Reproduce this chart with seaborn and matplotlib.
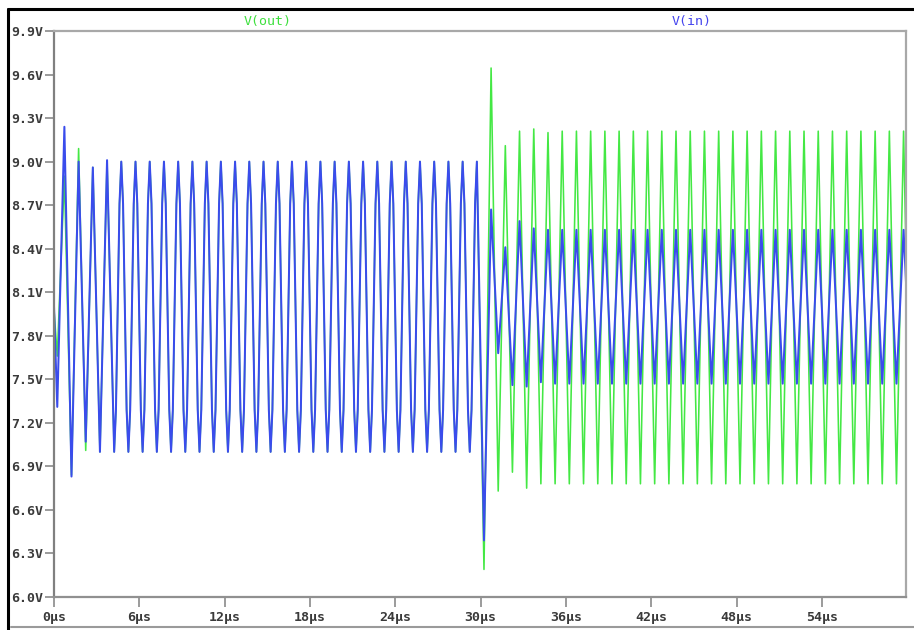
import numpy as np
import pandas as pd
import matplotlib
matplotlib.use("Agg")
import matplotlib.pyplot as plt
from matplotlib.lines import Line2D
import seaborn as sns

# ---- waveform data (volts, times in microseconds) ----
# Both traces oscillate at 1 MHz. Transient stretches are stored as
# successive extrema (min, max, min, ...); the settled stretch before the
# 30 us step is stored as one sampled cycle that repeats.
period_us = 1.0
first_extremum_us = 0.23
start_v_in = 8.0
start_v_out = 7.98

# start-up ring (extrema at 0.23, 0.73, ... 3.73 us)
v_in_startup = [7.31, 9.24, 6.83, 9.00, 7.07, 8.96, 7.00, 9.01]
v_out_startup = [7.66, 8.90, 6.84, 9.09, 7.01, 8.96, 7.00, 9.00]

# settled cycle, 4.23 us .. 29.73 us (both traces identical): offsets from the trough
cycle_offsets_us = [0.0, 0.125, 0.25, 0.375, 0.5, 0.625, 0.75, 0.875]
cycle_volts = [7.00, 7.29, 8.00, 8.71, 9.00, 8.71, 8.00, 7.29]
settled_first_cycle = 4
settled_last_cycle = 29

# step response after 30 us (extrema at 30.23, 30.73, ... 34.73 us)
v_in_step = [6.39, 8.67, 7.68, 8.41, 7.46, 8.59, 7.45, 8.54, 7.48, 8.53]
v_out_step = [6.19, 9.645, 6.73, 9.11, 6.86, 9.21, 6.75, 9.225, 6.78, 9.20]

# settled swing after the step (extrema at 35.23 .. 60.23 us)
v_in_steady_b = [7.47, 8.53] * 25 + [7.47]
v_out_steady_b = [6.78, 9.21] * 25 + [6.78]

y_ticks = [6.0, 6.3, 6.6, 6.9, 7.2, 7.5, 7.8, 8.1, 8.4, 8.7, 9.0, 9.3, 9.6, 9.9]
x_ticks = [0, 6, 12, 18, 24, 30, 36, 42, 48, 54]


def build_trace(start_v, startup, step, steady_b):
    times, volts = [0.0], [start_v]
    for k, v in enumerate(startup):
        times.append(first_extremum_us + 0.5 * period_us * k)
        volts.append(v)
    last_peak = settled_last_cycle + first_extremum_us + 0.5 * period_us
    for n in range(settled_first_cycle, settled_last_cycle + 1):
        for dt, v in zip(cycle_offsets_us, cycle_volts):
            tt = n + first_extremum_us + dt
            if tt <= last_peak + 1e-9:
                times.append(tt)
                volts.append(v)
    k0 = 2 * (settled_last_cycle + 1)
    for k, v in enumerate(step + steady_b):
        times.append(first_extremum_us + 0.5 * period_us * (k0 + k))
        volts.append(v)
    return times, volts


t_in, v_in = build_trace(start_v_in, v_in_startup, v_in_step, v_in_steady_b)
t_out, v_out = build_trace(start_v_out, v_out_startup, v_out_step, v_out_steady_b)

df = pd.concat([
    pd.DataFrame({"time": t_out, "voltage": v_out, "trace": "V(out)"}),
    pd.DataFrame({"time": t_in, "voltage": v_in, "trace": "V(in)"}),
], ignore_index=True)

colors = {"V(out)": "#44e844", "V(in)": "#3a4cec"}
text_colors = {"V(out)": "#3ee03e", "V(in)": "#4545ee"}

sns.set_theme(style="white")
plt.rcParams["font.family"] = ["DejaVu Sans Mono", "DejaVu Sans"]

W, H = 914, 630
fig = plt.figure(figsize=(W / 100, H / 100), dpi=100)
fig.patch.set_facecolor("white")
ax = fig.add_axes([54 / W, 1 - 597 / H, (906 - 54) / W, (597 - 31) / H])

sns.lineplot(data=df, x="time", y="voltage", hue="trace",
             hue_order=["V(out)", "V(in)"], palette=colors,
             estimator=None, sort=False, legend=False,
             linewidth=1.3, ax=ax)
# V(in) sits on top of V(out); a slightly wider stroke keeps the
# overlapping first half blue
ax.lines[0].set_linewidth(1.15)
ax.lines[1].set_linewidth(1.45)

ax.set_xlim(0, 59.9)
ax.set_ylim(6.0, 9.9)
ax.set_xticks(x_ticks)
ax.set_xticklabels([f"{v}µs" for v in x_ticks])
ax.set_yticks(y_ticks)
ax.set_yticklabels([f"{v:.1f}V" for v in y_ticks])
ax.set_xlabel("")
ax.set_ylabel("")

for lbl in ax.get_xticklabels() + ax.get_yticklabels():
    lbl.set_fontsize(9.5)
    lbl.set_fontweight("bold")
    lbl.set_color("#3a3a3a")

ax.tick_params(axis="y", direction="out", length=6.5, width=1.2,
               color="#8a8a8a", pad=1, left=True)
ax.tick_params(axis="x", direction="out", length=7, width=1.2,
               color="#8a8a8a", pad=3, bottom=True)

ax.spines["left"].set_color("#808080")
ax.spines["bottom"].set_color("#909090")
ax.spines["top"].set_color("#a8a8a8")
ax.spines["right"].set_color("#a8a8a8")
for s in ax.spines.values():
    s.set_linewidth(1.6)

# trace names above the plot
fig.text(268 / W, 1 - 22 / H, "V(out)", color=text_colors["V(out)"],
         fontsize=9.5, ha="center", va="center")
fig.text(692 / W, 1 - 22 / H, "V(in)", color=text_colors["V(in)"],
         fontsize=9.5, ha="center", va="center")

# window frame
fig.add_artist(Line2D([8 / W, 1], [1 - 9 / H, 1 - 9 / H], color="black",
                      linewidth=2.2, transform=fig.transFigure))
fig.add_artist(Line2D([8 / W, 8 / W], [0, 1 - 9 / H], color="black",
                      linewidth=2.2, transform=fig.transFigure))
fig.add_artist(Line2D([11 / W, 1], [1 - 627 / H, 1 - 627 / H], color="#9a9a9a",
                      linewidth=1.5, transform=fig.transFigure))

fig.savefig("out.png", dpi=100, facecolor="white")
